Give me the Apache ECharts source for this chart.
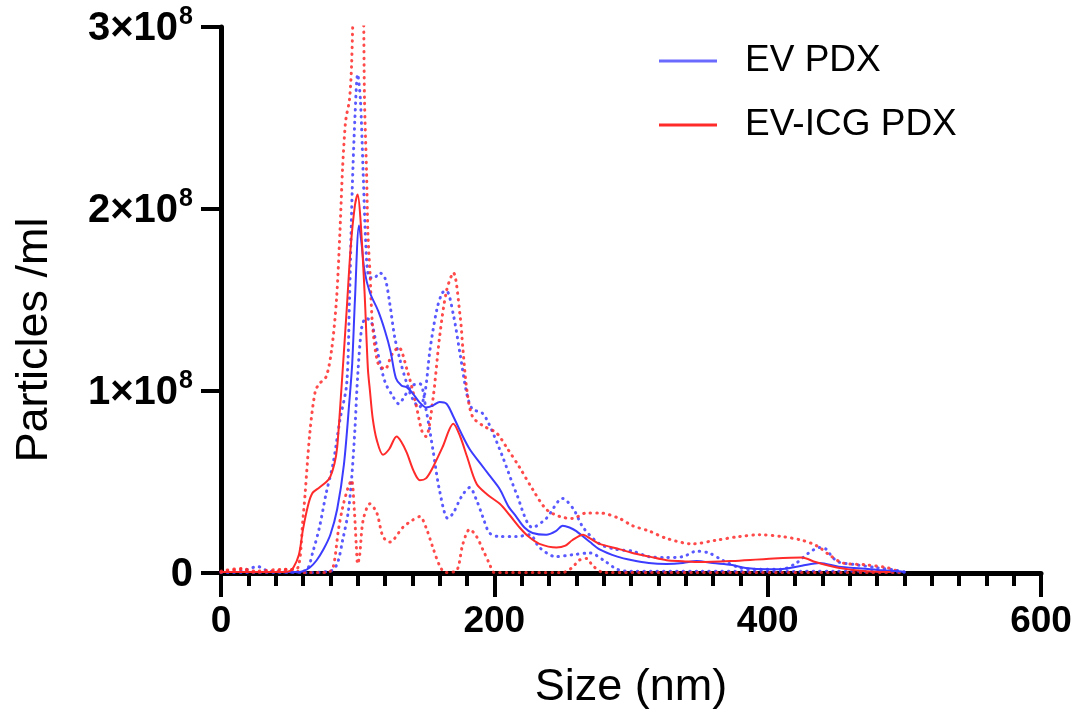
<!DOCTYPE html>
<html>
<head>
<meta charset="utf-8">
<script src="https://cdn.jsdelivr.net/npm/echarts@6/dist/echarts.min.js"></script>
<style>
html,body{margin:0;padding:0;background:#fff;}
#chart{width:1078px;height:721px;}
</style>
</head>
<body>
<div id="chart"></div>
<script>
// Size (nm) vs particles/ml, values in units of 1e8
const seriesNames = ['EV PDX', 'EV-ICG PDX'];
const xTicks = [0, 200, 400, 600];
const yTicks = [0, 1, 2, 3];

const evMean = [[0,0.005],[20,0.005],[40,0.005],[55,0.005],[60,0.01],[65,0.03],[70,0.07],[75,0.13],[80,0.21],[85,0.35],[90,0.6],[94,0.95],[96,1.15],[98,1.5],[101,1.91],[103,1.8],[105,1.66],[109,1.54],[115,1.44],[120,1.33],[124,1.22],[128,1.07],[132,1.03],[136,1.02],[140,0.99],[145,0.94],[150,0.91],[155,0.92],[160,0.94],[165,0.93],[170,0.86],[175,0.78],[182,0.68],[190,0.6],[196,0.54],[204,0.46],[210,0.37],[216,0.31],[222,0.25],[228,0.22],[238,0.21],[245,0.23],[250,0.26],[255,0.25],[260,0.23],[270,0.17],[277,0.13],[290,0.09],[301,0.07],[313,0.055],[326,0.05],[338,0.055],[348,0.066],[360,0.055],[374,0.044],[384,0.027],[400,0.02],[411,0.022],[425,0.04],[438,0.055],[452,0.035],[469,0.025],[484,0.015],[496,0.01],[500,0.005]];

const evRepA = [[0,0.005],[15,0.01],[27,0.035],[35,0.01],[55,0.005],[63,0.02],[67,0.11],[72,0.25],[77,0.44],[82,0.6],[87,0.84],[92,1.04],[94,1.5],[96,2.1],[98,2.5],[100,2.74],[102,2.6],[104,2.2],[106,1.8],[108,1.63],[112,1.62],[116,1.65],[120,1.62],[123.5,1.48],[127,1.3],[131,1.17],[136,1.04],[140,0.96],[145,0.91],[149,0.98],[153,1.23],[158,1.45],[162,1.54],[165,1.55],[170,1.42],[175,1.2],[180,0.98],[184,0.9],[191,0.88],[196,0.82],[206,0.64],[216,0.44],[228,0.25],[238,0.3],[250,0.41],[258,0.35],[265,0.25],[277,0.16],[289,0.13],[301,0.12],[313,0.09],[325,0.085],[338,0.09],[348,0.12],[357,0.11],[367,0.07],[379,0.03],[390,0.02],[410,0.02],[421,0.055],[430,0.11],[438,0.14],[443,0.13],[447,0.09],[452,0.06],[465,0.045],[479,0.03],[494,0.015],[500,0.005]];

const evRepB = [[0,0.003],[60,0.003],[80,0.01],[85,0.05],[89,0.18],[93,0.33],[95.5,0.51],[98,0.79],[100,1.08],[103,1.35],[106,1.4],[110,1.38],[115,1.2],[120,1.05],[125,0.98],[130,0.93],[135,0.98],[140,1.03],[145.5,1.04],[150,0.9],[155,0.68],[160,0.45],[166,0.3],[170,0.33],[176,0.42],[182,0.47],[187,0.4],[191.5,0.31],[196.5,0.22],[204,0.2],[216,0.2],[226,0.21],[233,0.14],[245,0.09],[257,0.1],[270,0.11],[280,0.07],[290,0.02],[300,0.01],[350,0.01],[400,0.008],[450,0.01],[500,0.005]];

const icgMean = [[0,0.005],[20,0.005],[40,0.005],[50,0.01],[53,0.03],[57,0.1],[60,0.24],[64,0.38],[67,0.44],[72,0.47],[77,0.5],[80,0.53],[83,0.6],[85,0.69],[88,1.0],[92,1.45],[95,1.8],[98,2.02],[100,2.08],[102,1.95],[105,1.55],[107.5,1.12],[109,1.0],[111,0.85],[114,0.73],[118.5,0.65],[123,0.68],[128.5,0.75],[132,0.72],[136,0.66],[141,0.56],[145.5,0.51],[150,0.52],[155,0.58],[162,0.69],[170,0.82],[175,0.75],[180,0.64],[187,0.49],[195,0.43],[204,0.38],[211,0.32],[218.5,0.25],[225,0.2],[233,0.16],[245.5,0.14],[252,0.15],[257,0.18],[265,0.21],[270,0.19],[277,0.16],[292,0.13],[301,0.11],[313.5,0.09],[326,0.07],[338,0.065],[350,0.06],[374,0.066],[399,0.077],[425,0.085],[435,0.06],[445,0.04],[455,0.025],[472,0.01],[490,0.005]];

const icgRepA = [[0,0.01],[15,0.025],[25,0.01],[45,0.02],[55,0.02],[60,0.3],[65,0.77],[69,1.0],[72,1.04],[77,1.08],[81,1.23],[84.5,1.5],[87,1.87],[89,2.23],[91,2.47],[92,2.52],[94,2.6],[95.5,2.78],[97,3.2],[100,4.0],[104,3.2],[105,2.6],[106.5,2.2],[107.5,1.87],[109,1.65],[111,1.35],[115,1.15],[120,1.12],[125,1.2],[130,1.24],[136,1.12],[142,0.95],[147,0.78],[150,0.75],[155,0.95],[160,1.3],[165,1.55],[170,1.65],[175,1.41],[177,1.23],[180,1.0],[184,0.86],[191.5,0.81],[201.5,0.77],[209,0.69],[218.5,0.58],[228,0.46],[238,0.35],[248,0.31],[257,0.3],[267.5,0.33],[277,0.33],[291.5,0.3],[301,0.26],[313.5,0.23],[326,0.19],[345,0.16],[362,0.18],[379,0.2],[394,0.21],[411,0.2],[425,0.18],[433,0.16],[438,0.14],[445,0.1],[455,0.055],[472,0.045],[487,0.03],[495,0.01]];

const icgRepB = [[0,0.003],[15,0.02],[25,0.003],[40,0.01],[50,0.02],[60,0.003],[78,0.003],[82,0.03],[86,0.24],[89,0.36],[93,0.47],[95.5,0.51],[97.5,0.35],[99,0.15],[100,0.05],[101.5,0.1],[104,0.29],[109,0.38],[114,0.33],[118.5,0.2],[123.5,0.17],[133,0.25],[140,0.29],[145.5,0.31],[150,0.25],[155,0.14],[160,0.04],[164,0.003],[172,0.01],[177,0.16],[182,0.24],[187,0.2],[191.5,0.13],[196.5,0.05],[200,0.003],[250,0.003],[257,0.03],[262,0.07],[267.5,0.08],[272,0.04],[280,0.003],[500,0.003]];

const BLUE = '#3c3cff';
const RED = '#ff2a2a';
const FONT = 'Liberation Sans, Arial, sans-serif';

const chart = echarts.init(document.getElementById('chart'), null, {renderer: 'canvas'});

function dotted(name, data, color) {
  return {
    name: name, type: 'line', data: data, smooth: 0.3, showSymbol: false, symbol: 'none',
    lineStyle: {color: color, width: 3, type: [0.5, 6], cap: 'round', opacity: 0.85},
    itemStyle: {color: color}, z: 2, clip: true, silent: true
  };
}
function solid(name, data, color) {
  return {
    name: name, type: 'line', data: data, smooth: 0.3, showSymbol: false, symbol: 'none',
    lineStyle: {color: color, width: 2}, itemStyle: {color: color}, z: 3, clip: true
  };
}

chart.setOption({
  animation: false,
  backgroundColor: '#fff',
  grid: {left: 221, right: 37, top: 27, bottom: 148, containLabel: false},
  legend: {
    data: [
      {name: seriesNames[0], itemStyle: {color: '#6a6aff'}},
      {name: seriesNames[1], itemStyle: {color: RED}}
    ],
    orient: 'vertical', left: 654, top: 36, icon: 'rect',
    itemWidth: 58, itemHeight: 3, itemGap: 24,
    textStyle: {fontFamily: FONT, fontSize: 37, color: '#000', lineHeight: 40, padding: [0, 0, 0, 23]}
  },
  xAxis: {
    type: 'value', min: xTicks[0], max: xTicks[xTicks.length - 1], interval: 200,
    splitLine: {show: false},
    axisLine: {lineStyle: {color: '#000', width: 5}},
    axisTick: {length: 24, lineStyle: {color: '#000', width: 4}},
    minorTick: {show: true, splitNumber: 10, length: 13, lineStyle: {color: '#000', width: 4}},
    axisLabel: {fontFamily: FONT, fontWeight: 'bold', fontSize: 37, color: '#000', margin: 30},
    name: 'Size (nm)', nameLocation: 'middle', nameGap: 92,
    nameTextStyle: {fontFamily: FONT, fontSize: 45, color: '#000'}
  },
  yAxis: {
    type: 'value', min: yTicks[0], max: yTicks[yTicks.length - 1], interval: 1,
    splitLine: {show: false},
    axisLine: {lineStyle: {color: '#000', width: 5}},
    axisTick: {length: 20, lineStyle: {color: '#000', width: 4}},
    axisLabel: {
      margin: 28,
      formatter: function (v) { return v === 0 ? '{b|0}' : '{b|' + v + '×10}{s|8}'; },
      rich: {
        b: {fontFamily: FONT, fontWeight: 'bold', fontSize: 40, color: '#000', lineHeight: 44, verticalAlign: 'bottom'},
        s: {fontFamily: FONT, fontWeight: 'bold', fontSize: 25, color: '#000', lineHeight: 44, verticalAlign: 'top', padding: [0, 0, 16, 1]}
      }
    },
    name: 'Particles /ml', nameLocation: 'middle', nameGap: 164, nameRotate: 90,
    nameTextStyle: {fontFamily: FONT, fontSize: 45, color: '#000', padding: [0, 80, 0, 0]}
  },
  series: [
    dotted('EV rep A', evRepA, BLUE),
    dotted('EV rep B', evRepB, BLUE),
    dotted('ICG rep A', icgRepA, RED),
    dotted('ICG rep B', icgRepB, RED),
    solid(seriesNames[0], evMean, BLUE),
    solid(seriesNames[1], icgMean, RED)
  ]
});
</script>
</body>
</html>
